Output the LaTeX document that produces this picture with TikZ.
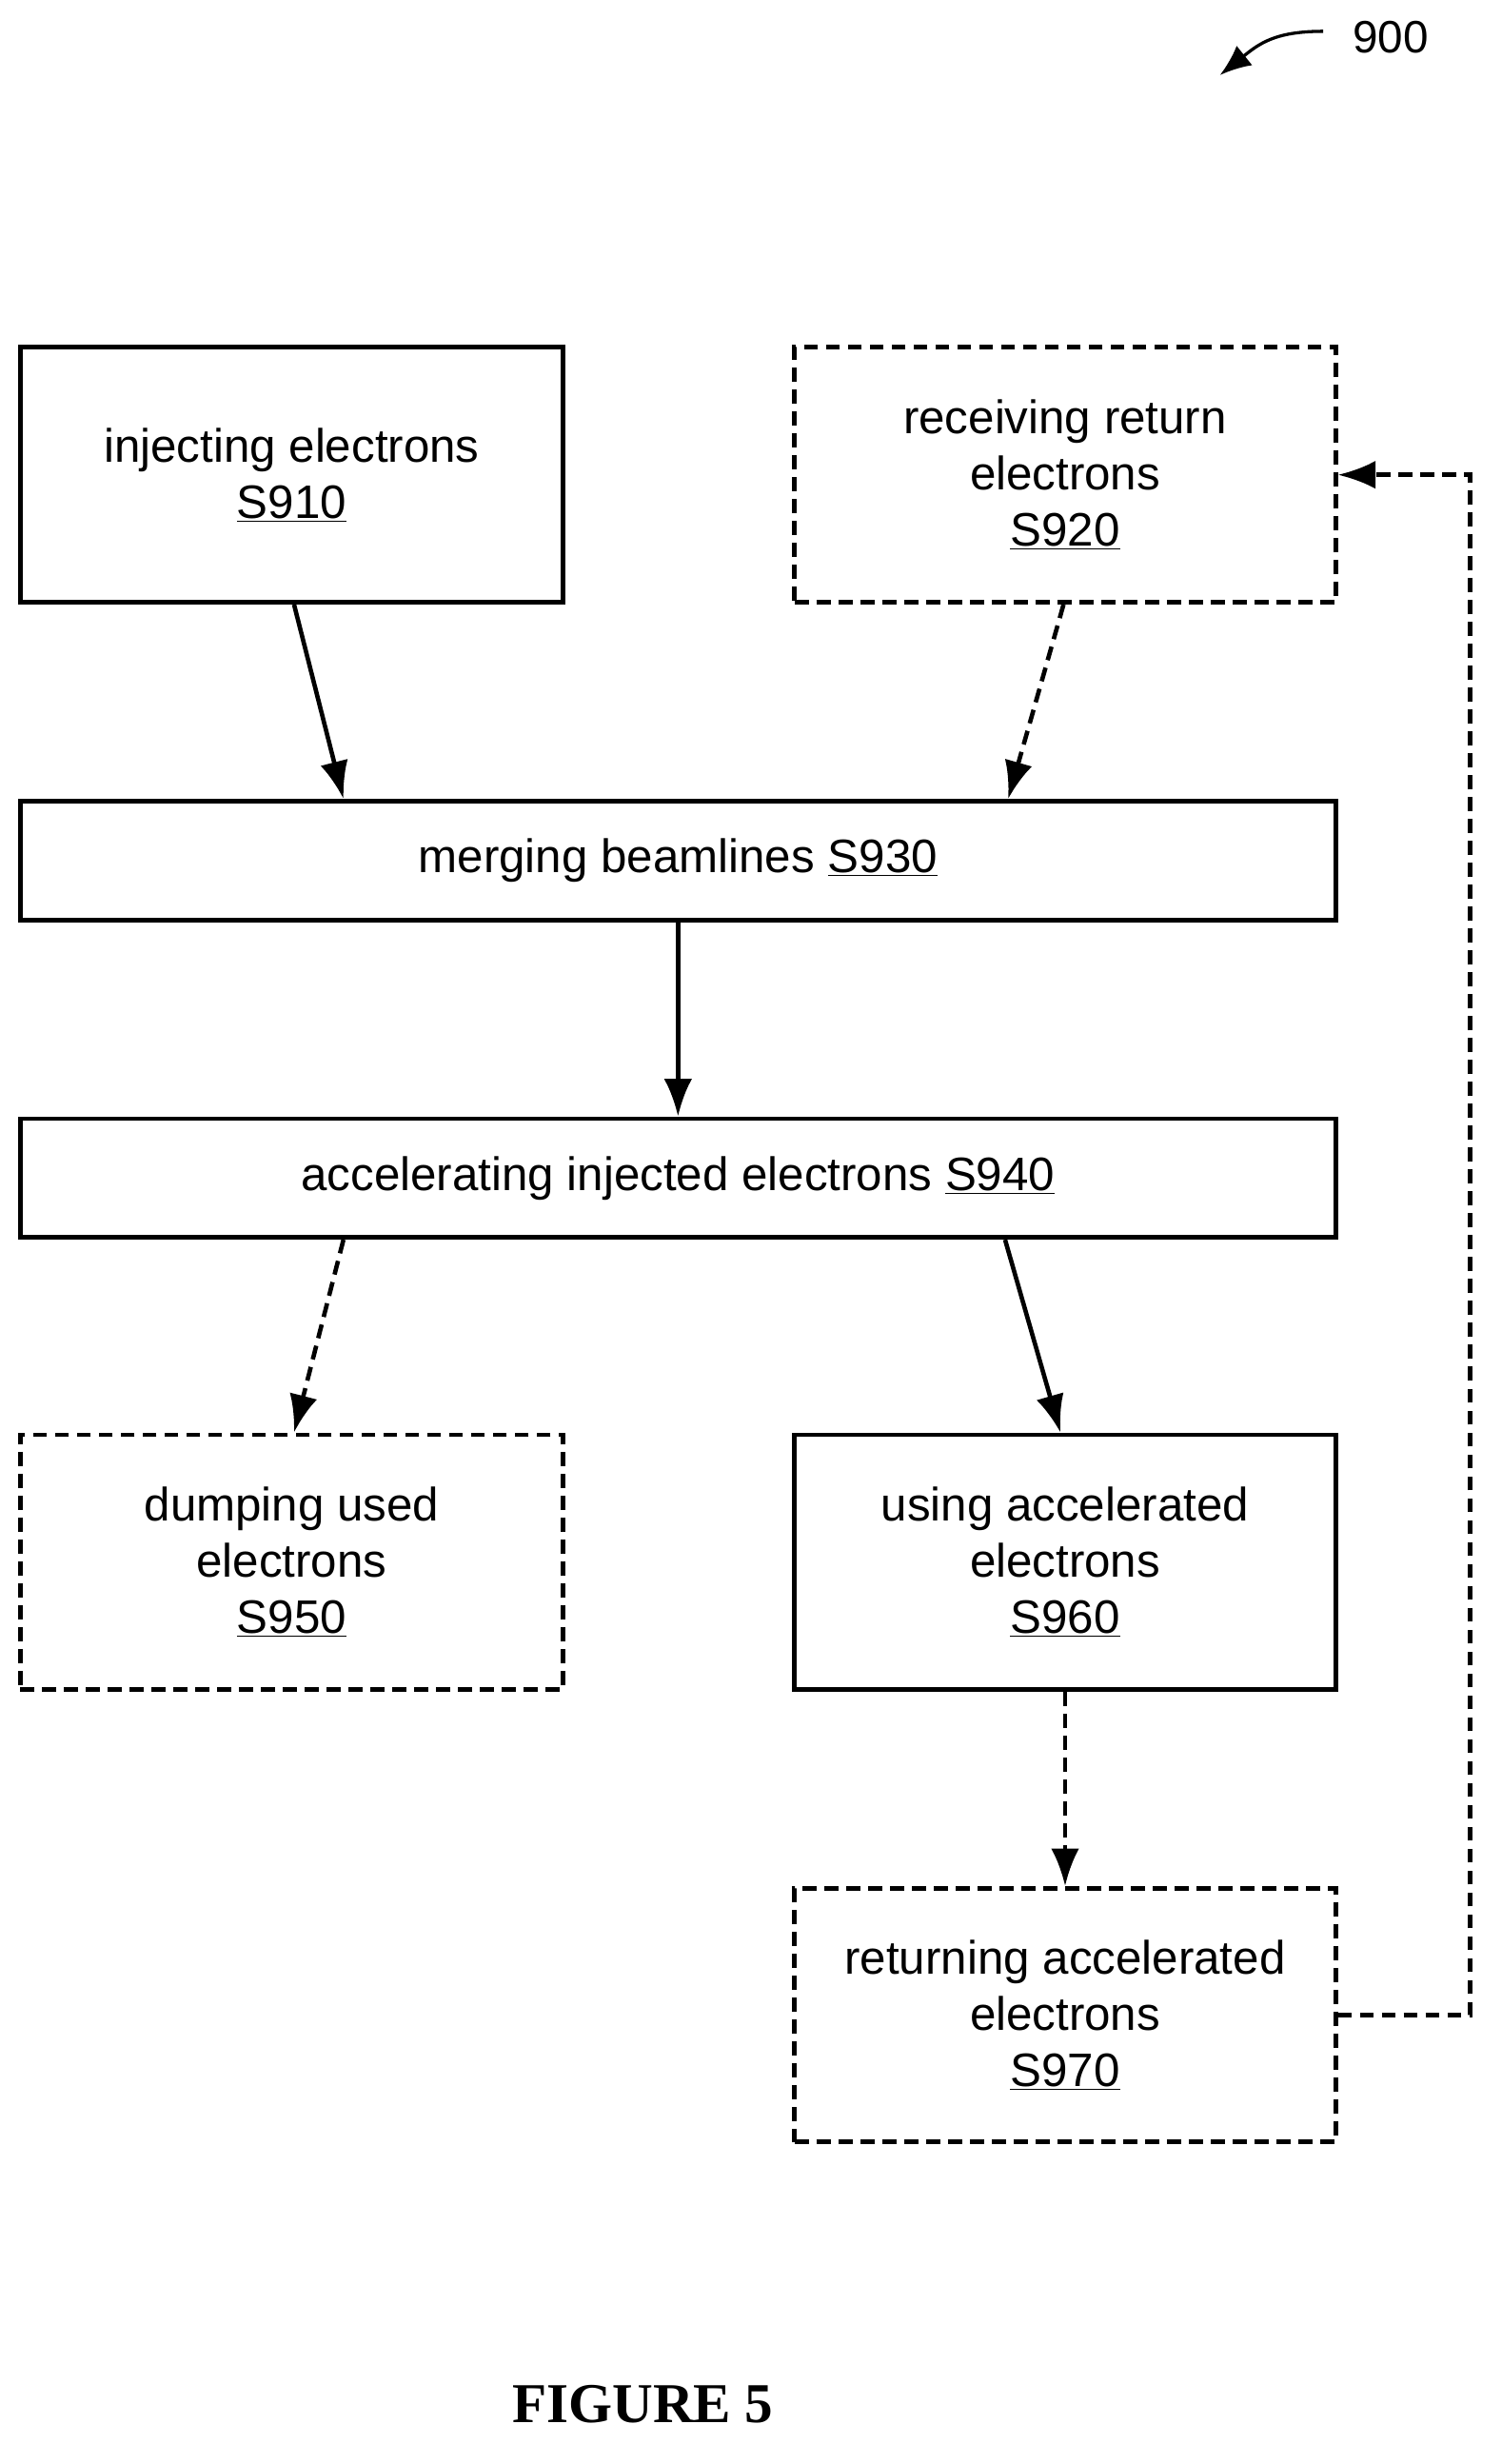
\documentclass[tikz,border=0pt]{standalone}
\usepackage{fontspec}
\setmainfont{Liberation Sans}
\newfontfamily\figfont{Liberation Serif}
\usetikzlibrary{calc,arrows.meta}
\begin{document}
\begin{tikzpicture}[x=1pt,y=-1pt,
  box/.style={draw,line width=2.8pt,rectangle,inner sep=0pt,align=center,
    font=\fontsize{30}{36}\selectfont},
  dsh/.style={dash pattern=on 9pt off 5pt},
  arr/.style={line width=2.8pt,-{Latex[length=24pt,width=18pt]}}]
\useasboundingbox (0,0) rectangle (960,1575);
\node[box,minimum width=347pt,minimum height=163pt] (s910) at (186.5,303.5) {injecting electrons\\\underline{S910}};
\node[box,dsh,minimum width=346pt,minimum height=163pt] (s920) at (681,303.5) {receiving return\\electrons\\\underline{S920}};
\node[box,minimum width=841pt,minimum height=76pt] (s930) at (433.5,550) {merging beamlines \underline{S930}};
\node[box,minimum width=841pt,minimum height=76pt] (s940) at (433.5,753) {accelerating injected electrons \underline{S940}};
\node[box,dsh,minimum width=347pt,minimum height=163pt] (s950) at (186.5,998.5) {dumping used\\electrons\\\underline{S950}};
\node[box,minimum width=346pt,minimum height=163pt] (s960) at (681,998.5) {using accelerated\\electrons\\\underline{S960}};
\node[box,dsh,minimum width=346pt,minimum height=162pt] (s970) at (681,1288) {returning accelerated\\electrons\\\underline{S970}};
\draw[arr] ($(s910.south)+(1.5,0)$) -- ($(s930.north west)+(208,0)$);
\draw[arr,dsh] ($(s920.south)+(-1,0)$) -- ($(s930.north west)+(633,0)$);
\draw[arr] (s930.south) -- (s940.north);
\draw[arr,dsh] ($(s940.south west)+(208,0)$) -- ($(s950.north)+(1.5,0)$);
\draw[arr] ($(s940.south west)+(631,0)$) -- ($(s960.north)+(-3,0)$);
\draw[arr,dsh] (s960.south) -- (s970.north);
\coordinate (r1) at (940,1288);
\coordinate (r2) at (940,303.5);
\draw[arr,dsh] (s970.east) -- (r1) -- (r2) -- (s920.east);
\node[font=\fontsize{29}{32}\selectfont] (lbl) at (889,24) {900};
\coordinate (c1) at (846,20);
\draw[line width=2pt,-{Latex[length=20pt,width=16pt]}] (c1) .. controls (815,20) and (805,28) .. (780,48);
\node[font=\figfont\bfseries\fontsize{36}{40}\selectfont] (fig) at (411,1537) {FIGURE 5};
\end{tikzpicture}
\end{document}
